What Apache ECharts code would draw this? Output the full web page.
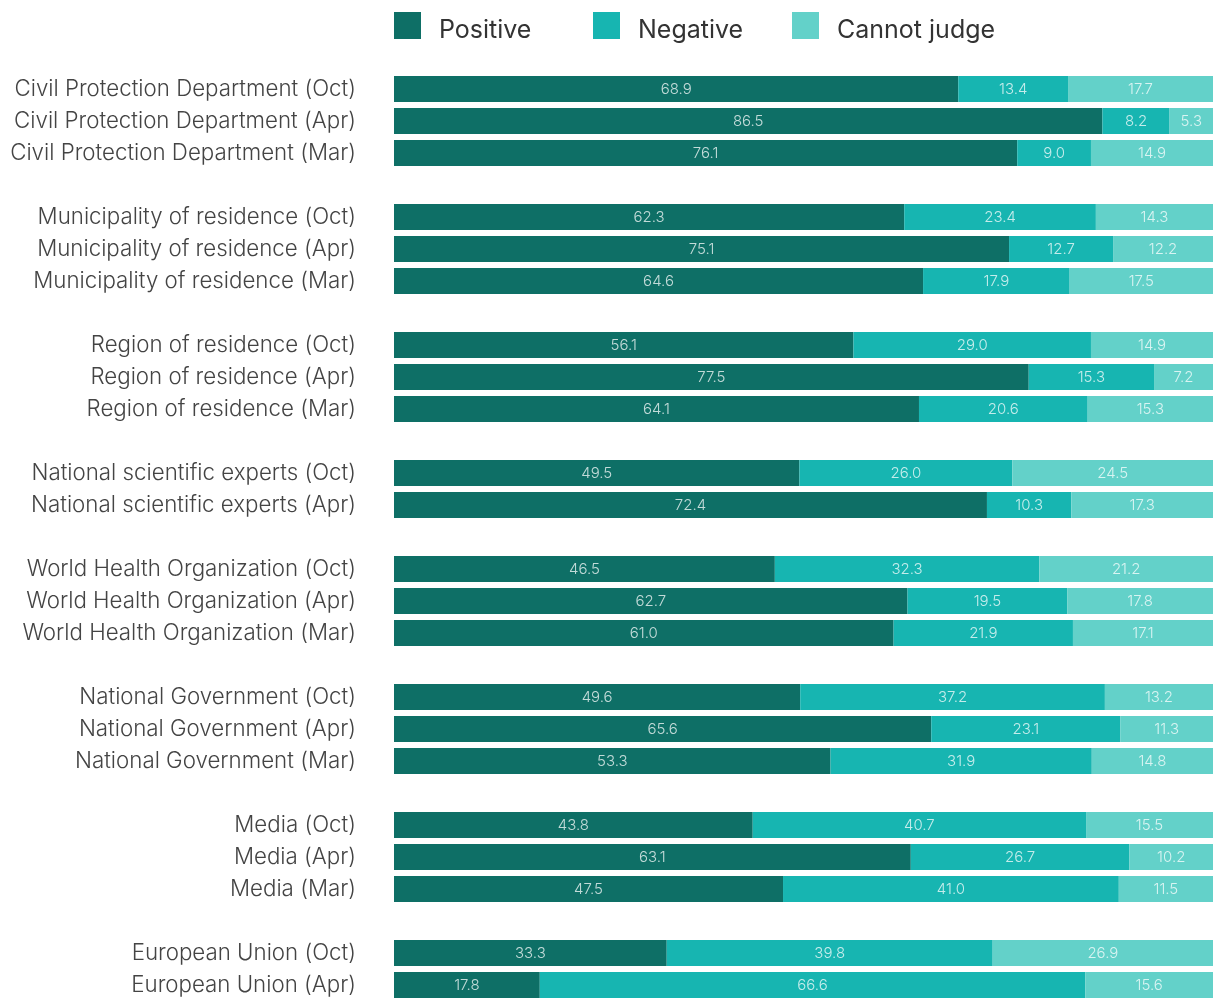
<!DOCTYPE html>
<html>
<head>
<meta charset="utf-8">
<script src="https://cdn.jsdelivr.net/npm/echarts@6/dist/echarts.min.js"></script>
<style>
html,body{margin:0;padding:0;background:#fff;}
#chart{width:1215px;height:1001px;}
</style>
</head>
<body>
<div id="chart"></div>
<script>
const categories = [
  'Civil Protection Department (Oct)', 'Civil Protection Department (Apr)', 'Civil Protection Department (Mar)', '',
  'Municipality of residence (Oct)', 'Municipality of residence (Apr)', 'Municipality of residence (Mar)', '',
  'Region of residence (Oct)', 'Region of residence (Apr)', 'Region of residence (Mar)', '',
  'National scientific experts (Oct)', 'National scientific experts (Apr)', '',
  'World Health Organization (Oct)', 'World Health Organization (Apr)', 'World Health Organization (Mar)', '',
  'National Government (Oct)', 'National Government (Apr)', 'National Government (Mar)', '',
  'Media (Oct)', 'Media (Apr)', 'Media (Mar)', '',
  'European Union (Oct)', 'European Union (Apr)'
];
const positive = [68.9, 86.5, 76.1, null, 62.3, 75.1, 64.6, null, 56.1, 77.5, 64.1, null, 49.5, 72.4, null, 46.5, 62.7, 61.0, null, 49.6, 65.6, 53.3, null, 43.8, 63.1, 47.5, null, 33.3, 17.8];
const negative = [13.4, 8.2, 9.0, null, 23.4, 12.7, 17.9, null, 29.0, 15.3, 20.6, null, 26.0, 10.3, null, 32.3, 19.5, 21.9, null, 37.2, 23.1, 31.9, null, 40.7, 26.7, 41.0, null, 39.8, 66.6];
const cannotJudge = [17.7, 5.3, 14.9, null, 14.3, 12.2, 17.5, null, 14.9, 7.2, 15.3, null, 24.5, 17.3, null, 21.2, 17.8, 17.1, null, 13.2, 11.3, 14.8, null, 15.5, 10.2, 11.5, null, 26.9, 15.6];
const seriesNames = ['Positive', 'Negative', 'Cannot judge'];
const colors = ['#0e6f66', '#17b5b1', '#63d1c9'];

const chart = echarts.init(document.getElementById('chart'));
const labelCfg = {
  show: true,
  position: 'inside',
  color: 'rgba(255,255,255,0.75)',
  fontSize: 15,
  fontWeight: 300,
  fontFamily: 'Inter',
  formatter: p => (p.value == null ? '' : Number(p.value).toFixed(1))
};
function mk(name, data, i) {
  return {
    name: name, type: 'bar', stack: 'total', data: data,
    barCategoryGap: '19%',
    itemStyle: { color: colors[i] },
    label: labelCfg,
    emphasis: { disabled: true }
  };
}
const legendLefts = [394, 593, 792];
const legends = seriesNames.map((n, i) => ({
  top: 12, left: legendLefts[i], padding: 0,
  itemWidth: 27, itemHeight: 27,
  icon: 'rect',
  formatter: '{t|{name}}',
  textStyle: {
    fontSize: 25, color: '#333', fontFamily: 'Inter', padding: [0, 0, 0, 13],
    rich: { t: { fontSize: 25, color: '#333', fontFamily: 'Inter', padding: [10, 0, 0, 0] } }
  },
  data: [n]
}));
chart.setOption({
  animation: false,
  legend: legends,
  grid: { left: 394, right: 2, top: 73, height: 932, containLabel: false },
  xAxis: { type: 'value', min: 0, max: 100, show: false },
  yAxis: {
    type: 'category', data: categories, inverse: true,
    axisLine: { show: false }, axisTick: { show: false },
    axisLabel: { margin: 38, fontSize: 22.3, fontWeight: 300, color: '#444', fontFamily: 'Inter' }
  },
  series: [mk(seriesNames[0], positive, 0), mk(seriesNames[1], negative, 1), mk(seriesNames[2], cannotJudge, 2)]
});
</script>
</body>
</html>
